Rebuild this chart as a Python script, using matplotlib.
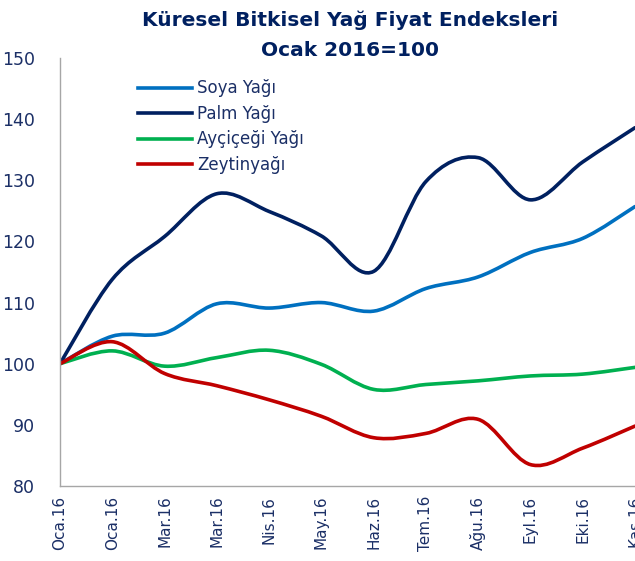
import matplotlib
matplotlib.use("Agg")
import matplotlib.pyplot as plt
from matplotlib.path import Path
from matplotlib.patches import PathPatch
from matplotlib.lines import Line2D
import numpy as np

categories = ["Oca.16", "Oca.16", "Mar.16", "Mar.16", "Nis.16", "May.16",
              "Haz.16", "Tem.16", "Ağu.16", "Eyl.16", "Eki.16", "Kas.16"]
soya = [100, 104.5, 105.0, 109.8, 109.1, 110.0, 108.6, 112.3, 114.2, 118.2, 120.5, 125.7]
palm = [100, 113.8, 120.8, 127.8, 124.9, 120.9, 115.1, 129.8, 133.7, 126.8, 133.0, 138.6]
aycicegi = [100, 102.1, 99.6, 101.0, 102.2, 99.9, 95.8, 96.6, 97.2, 98.0, 98.3, 99.4]
zeytin = [100, 103.6, 98.4, 96.4, 94.1, 91.4, 87.9, 88.6, 90.9, 83.5, 86.2, 89.8]

series = [("Soya Yağı", soya, "#0070C0"),
          ("Palm Yağı", palm, "#002060"),
          ("Ayçiçeği Yağı", aycicegi, "#00B050"),
          ("Zeytinyağı", zeytin, "#C00000")]

navy = "#1B2F66"
plt.rcParams['font.family'] = ['DejaVu Sans']

fig = plt.figure(figsize=(6.35, 5.61), dpi=100)
ax = fig.add_axes([60/635, 1-486/561, 1-60/635, (486-58)/561])


def smooth_path(xs, ys):
    pts = np.column_stack([xs, ys]).astype(float)
    n = len(pts)
    verts = [pts[0]]
    codes = [Path.MOVETO]
    for i in range(n - 1):
        p0 = pts[i - 1] if i > 0 else pts[i]
        p1 = pts[i]
        p2 = pts[i + 1]
        p3 = pts[i + 2] if i + 2 < n else pts[i + 1]
        c1 = p1 + (p2 - p0) / 6.0
        c2 = p2 - (p3 - p1) / 6.0
        verts += [c1, c2, p2]
        codes += [Path.CURVE4] * 3
    return Path(verts, codes)


x = np.arange(len(categories))
handles = []
for name, vals, col in series:
    patch = PathPatch(smooth_path(x, vals), fill=False, edgecolor=col,
                      lw=2.6, capstyle='round', joinstyle='round')
    ax.add_patch(patch)
    handles.append(Line2D([], [], color=col, lw=2.6, label=name))

ax.set_xlim(0, len(categories) - 1)
ax.set_ylim(80, 150)
ax.set_yticks(np.arange(80, 151, 10))
ax.set_xticks(x)
ax.set_xticklabels(categories, rotation=90, fontsize=11, color=navy)
for lab in ax.get_yticklabels():
    lab.set_fontsize(12.5)
    lab.set_color(navy)
ax.tick_params(axis='both', length=0)
ax.tick_params(axis='y', pad=18)
ax.tick_params(axis='x', pad=7)
for s in ['top', 'right']:
    ax.spines[s].set_visible(False)
ax.spines['left'].set_color('#A6A6A6')
ax.spines['bottom'].set_color('#A6A6A6')
ax.spines['left'].set_linewidth(1.0)
ax.spines['bottom'].set_linewidth(1.0)

leg = ax.legend(handles=handles, loc='upper left', bbox_to_anchor=(0.11, 0.985),
                frameon=False, fontsize=12, handlelength=3.2, handletextpad=0.35,
                labelspacing=0.45, labelcolor=navy)

fig.text(350/635, 1-20/561, "Küresel Bitkisel Yağ Fiyat Endeksleri", ha='center', va='center',
         fontsize=14.5, fontweight='bold', color="#002060")
fig.text(350/635, 1-50/561, "Ocak 2016=100", ha='center', va='center',
         fontsize=14.5, fontweight='bold', color="#002060")

fig.savefig("out.png", dpi=100)
